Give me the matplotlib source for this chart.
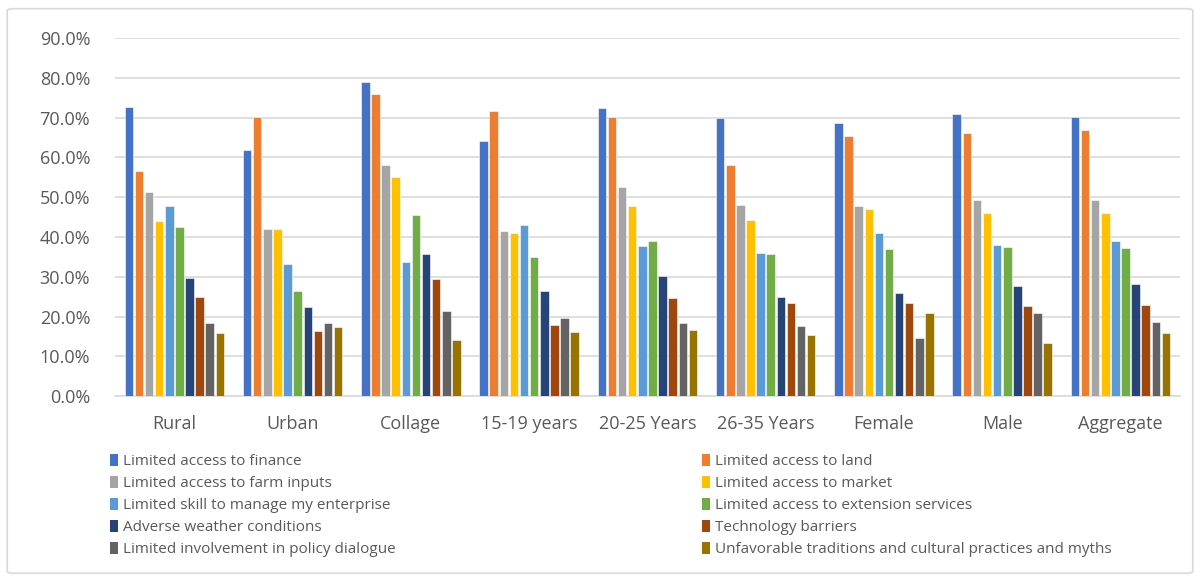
import numpy as np
import matplotlib.pyplot as plt
from matplotlib.patches import Patch, FancyBboxPatch

plt.rcParams["font.family"] = ["Open Sans", "DejaVu Sans"]

categories = ["Rural", "Urban", "Collage", "15-19 years", "20-25 Years",
              "26-35 Years", "Female", "Male", "Aggregate"]

series_names = [
    "Limited access to finance",
    "Limited access to land",
    "Limited access to farm inputs",
    "Limited access to market",
    "Limited skill to manage my enterprise",
    "Limited access to extension services",
    "Adverse weather conditions",
    "Technology barriers",
    "Limited involvement in policy dialogue",
    "Unfavorable traditions and cultural practices and myths",
]

colors = ["#4472C4", "#ED7D31", "#A5A5A5", "#FFC000", "#5B9BD5",
          "#70AD47", "#264478", "#9E480E", "#636363", "#997300"]

# values in percent, one list per series (order of categories)
finance    = [72.6, 62.0, 79.1, 64.2, 72.4, 69.9, 68.6, 70.9, 70.2]
land       = [56.5, 70.2, 75.9, 71.8, 70.3, 58.0, 65.5, 66.2, 66.8]
farm       = [51.2, 42.0, 58.0, 41.4, 52.6, 48.1, 47.9, 49.4, 49.2]
market     = [44.0, 41.9, 55.2, 40.9, 47.9, 44.3, 47.0, 46.0, 46.0]
skill      = [47.9, 33.1, 33.8, 43.0, 37.8, 35.9, 40.9, 37.9, 38.9]
extension  = [42.6, 26.4, 45.5, 34.9, 38.9, 35.6, 37.1, 37.4, 37.2]
weather    = [29.6, 22.4, 35.8, 26.5, 30.3, 24.9, 26.0, 27.6, 28.1]
technology = [25.0, 16.3, 29.5, 17.9, 24.6, 23.3, 23.5, 22.6, 22.9]
policy     = [18.3, 18.3, 21.4, 19.6, 18.4, 17.5, 14.6, 21.0, 18.7]
traditions = [15.9, 17.4, 14.2, 16.2, 16.5, 15.4, 21.0, 13.4, 15.9]

series = [finance, land, farm, market, skill, extension,
          weather, technology, policy, traditions]

fig = plt.figure(figsize=(12, 5.79), dpi=100)
ax = fig.add_axes([0.096, 0.316, 0.887, 0.618])

x = np.arange(len(categories))
n = len(series)
slot = 0.0855
width = 0.072
for i, (vals, col) in enumerate(zip(series, colors)):
    off = (i - (n - 1) / 2) * slot
    ax.bar(x + off, np.array(vals) / 100, width=width, color=col,
           edgecolor="white", linewidth=0.4, zorder=3)

ax.set_xlim(-0.5, len(categories) - 0.5)
ax.set_ylim(0, 0.9)
ax.set_yticks(np.arange(0, 0.91, 0.1))
ax.set_yticklabels([f"{v * 100:.1f}%" for v in np.arange(0, 0.91, 0.1)])
ax.set_xticks(x)
ax.set_xticklabels(categories)
ax.tick_params(axis="both", length=0, labelsize=13, colors="#595959")
ax.tick_params(axis="x", pad=14)
ax.tick_params(axis="y", pad=18)
ax.grid(axis="y", color="#d9d9d9", linewidth=1.2, zorder=0)
for s in ["top", "right", "left"]:
    ax.spines[s].set_visible(False)
ax.spines["bottom"].set_color("#d9d9d9")
ax.spines["bottom"].set_linewidth(1.2)

# legend: row-wise order in two columns
handles = [Patch(facecolor=c) for c in colors]
order = [0, 2, 4, 6, 8, 1, 3, 5, 7, 9]
leg = fig.legend([handles[i] for i in order], [series_names[i] for i in order],
                 ncol=2, loc="upper left", bbox_to_anchor=(0.080, 0.2405),
                 frameon=False, fontsize=11, handlelength=0.55,
                 handleheight=0.9, handletextpad=0.3, labelspacing=0.42,
                 columnspacing=20.05)
for t in leg.get_texts():
    t.set_color("#595959")

# light outer frame
frame = FancyBboxPatch((0.006, 0.01), 0.988, 0.975, transform=fig.transFigure,
                       boxstyle="round,pad=0,rounding_size=0.004",
                       facecolor="none", edgecolor="#d9d9d9", linewidth=1.2)
fig.patches.append(frame)

fig.savefig("out.png", dpi=100)
